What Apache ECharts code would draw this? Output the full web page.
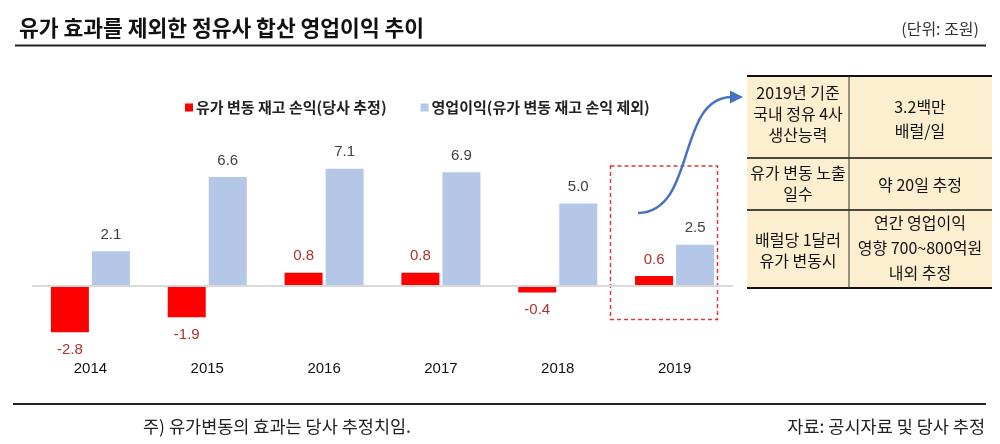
<!DOCTYPE html>
<html>
<head>
<meta charset="utf-8">
<script src="https://cdn.jsdelivr.net/npm/echarts@6/dist/echarts.min.js"></script>
<style>
html,body{margin:0;padding:0;background:#fff;}
#chart{width:1000px;height:444px;}
</style>
</head>
<body>
<div id="chart"></div>
<script>
var years = ['2014', '2015', '2016', '2017', '2018', '2019'];
var inventoryPL = [-2.8, -1.9, 0.8, 0.8, -0.4, 0.6];
var opProfitEx = [2.1, 6.6, 7.1, 6.9, 5.0, 2.5];
var seriesNames = ['유가 변동 재고 손익(당사 추정)', '영업이익(유가 변동 재고 손익 제외)'];

var KR = '"Noto Sans CJK KR", "Noto Sans", sans-serif';
var NUM = '"Liberation Sans", Arial, sans-serif';

var chart = echarts.init(document.getElementById('chart'));

var redData = inventoryPL.map(function (v) {
  return {
    value: v,
    label: { position: v < 0 ? 'bottom' : 'top', distance: v < 0 ? 10 : 9 }
  };
});

var tableFont = '16px ' + KR;
function tText(x, y, txt, lh) {
  return {
    type: 'text', silent: true,
    style: { text: txt, x: x, y: y, fill: '#111', font: tableFont, align: 'center', verticalAlign: 'middle', lineHeight: lh || 21 }
  };
}
function hLine(y, w) {
  return { type: 'line', silent: true, shape: { x1: 747, y1: y, x2: 992, y2: y }, style: { stroke: '#111', lineWidth: w || 1.5 } };
}

var option = {
  animation: false,
  backgroundColor: '#fff',
  grid: { left: 32, right: 267, top: 154, bottom: 92, containLabel: false },
  legend: {
    left: 180, top: 95,
    itemWidth: 8, itemHeight: 8, itemGap: 34,
    icon: 'rect',
    textStyle: { fontFamily: KR, fontSize: 15, fontWeight: 'bold', color: '#222', padding: [0, 0, 0, -2] },
    data: seriesNames
  },
  xAxis: {
    type: 'category',
    data: years,
    axisLine: { show: false },
    axisTick: { show: false },
    axisLabel: { margin: 9, fontFamily: NUM, fontSize: 15, color: '#111' }
  },
  yAxis: {
    type: 'value', min: -4, max: 8, interval: 4,
    show: false,
    splitLine: { show: false }
  },
  series: [
    {
      name: seriesNames[0],
      type: 'bar',
      barWidth: 38,
      barGap: '8%',
      itemStyle: { color: '#ff0000' },
      label: { show: true, fontFamily: NUM, fontSize: 15, color: '#b3302d', formatter: function (p) { return p.value.toFixed(1); } },
      data: redData
    },
    {
      name: seriesNames[1],
      type: 'bar',
      barWidth: 38,
      itemStyle: { color: '#b4c7e7' },
      label: { show: true, position: 'top', distance: 9, fontFamily: NUM, fontSize: 15, color: '#404040', formatter: function (p) { return p.value.toFixed(1); } },
      data: opProfitEx,
      markLine: {
        silent: true, symbol: 'none', label: { show: false },
        lineStyle: { color: '#d9d9d9', type: 'solid', width: 2 },
        data: [{ yAxis: 0 }]
      }
    }
  ],
  graphic: [
    { type: 'text', silent: true, style: { text: '유가 효과를 제외한 정유사 합산 영업이익 추이', x: 19, y: 28, fill: '#111', font: 'bold 21.5px ' + KR, verticalAlign: 'middle' } },
    { type: 'text', silent: true, style: { text: '(단위: 조원)', x: 979, y: 29, fill: '#333', font: '16px ' + KR, align: 'right', verticalAlign: 'middle' } },
    { type: 'line', silent: true, shape: { x1: 15, y1: 45.5, x2: 986, y2: 45.5 }, style: { stroke: '#222', lineWidth: 2 } },
    { type: 'line', silent: true, shape: { x1: 13, y1: 404, x2: 986, y2: 404 }, style: { stroke: '#222', lineWidth: 2 } },
    { type: 'text', silent: true, style: { text: '주) 유가변동의 효과는 당사 추정치임.', x: 143, y: 426, fill: '#222', font: '17.5px ' + KR, verticalAlign: 'middle' } },
    { type: 'text', silent: true, style: { text: '자료: 공시자료 및 당사 추정', x: 985, y: 426, fill: '#222', font: '17.5px ' + KR, align: 'right', verticalAlign: 'middle' } },
    // dashed highlight box
    { type: 'rect', silent: true, shape: { x: 610.5, y: 166, width: 107, height: 153.5 }, style: { fill: 'none', stroke: '#e03a3a', lineWidth: 1.5, lineDash: [4, 3] } },
    // arrow
    { type: 'bezierCurve', silent: true, shape: { x1: 638, y1: 213, cpx1: 697, cpy1: 212, cpx2: 676, cpy2: 97, x2: 732, y2: 97 }, style: { stroke: '#4472c4', lineWidth: 2.5, fill: 'none' } },
    { type: 'polygon', silent: true, shape: { points: [[743, 97], [730, 90.5], [730, 103.5]] }, style: { fill: '#4472c4' } },
    // table
    { type: 'rect', silent: true, shape: { x: 747, y: 76, width: 245, height: 212 }, style: { fill: '#fcefcf' } },
    hLine(76, 2), hLine(158, 1.5), hLine(210, 1.5), hLine(288, 2),
    { type: 'line', silent: true, shape: { x1: 849, y1: 76, x2: 849, y2: 288 }, style: { stroke: '#333', lineWidth: 1 } },
    tText(798, 114, '2019년 기준\n국내 정유 4사\n생산능력', 21),
    tText(920, 119, '3.2백만\n배럴/일', 24),
    tText(798, 183, '유가 변동 노출\n일수', 21),
    tText(920, 185, '약 20일 추정'),
    tText(798, 250, '배럴당 1달러\n유가 변동시', 21),
    tText(920, 248, '연간 영업이익\n영향 700~800억원\n내외 추정', 25)
  ]
};
chart.setOption(option);
</script>
</body>
</html>
